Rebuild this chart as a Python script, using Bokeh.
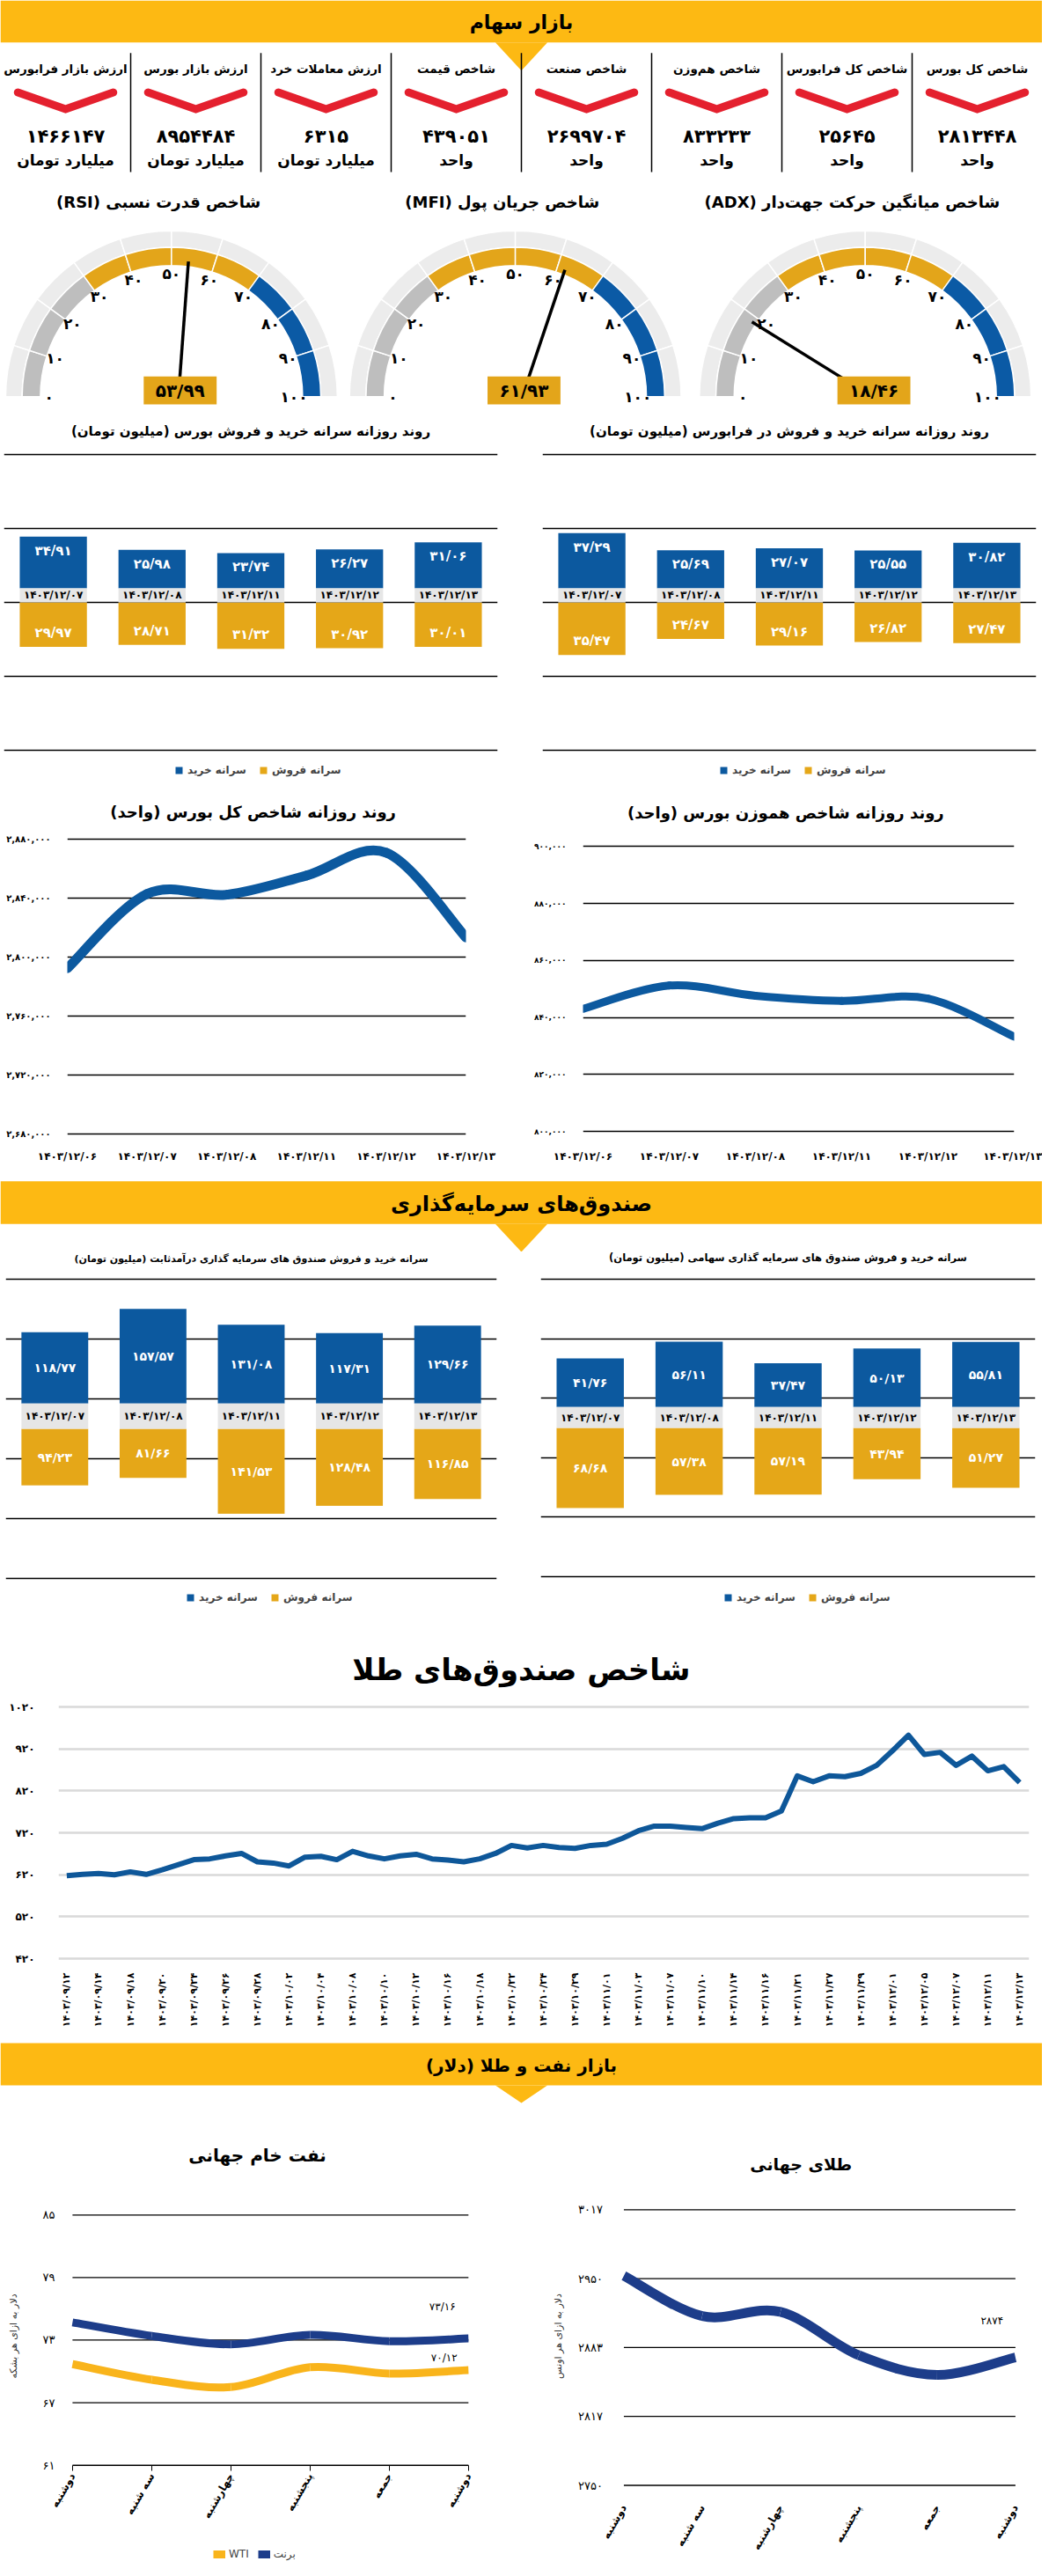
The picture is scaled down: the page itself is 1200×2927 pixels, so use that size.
import math
from bokeh.plotting import figure
from bokeh.layouts import column, row
from bokeh.models import Range1d, FixedTicker, Grid, Legend, LegendItem
from bokeh.core.properties import value
from bokeh.embed import file_html
from bokeh.resources import INLINE

# ------------------------------------------------------------------ data
kpi_titles = ["ارزش بازار فرابورس", "ارزش بازار بورس", "ارزش معاملات خرد", "شاخص قیمت",
              "شاخص صنعت", "شاخص هم‌وزن", "شاخص کل فرابورس", "شاخص کل بورس"]
kpi_values = [1466147, 8954484, 6315, 439051, 2699704, 833233, 25645, 2813448]
kpi_units = ["میلیارد تومان", "میلیارد تومان", "میلیارد تومان", "واحد", "واحد", "واحد", "واحد", "واحد"]

gauge_titles = ["شاخص قدرت نسبی (RSI)", "شاخص جریان پول (MFI)", "شاخص میانگین حرکت جهت‌دار (ADX)"]
gauge_values = [53.99, 61.93, 18.46]
gauge_ticks = [0, 10, 20, 30, 40, 50, 60, 70, 80, 90, 100]

trade_dates = ["1403/12/07", "1403/12/08", "1403/12/11", "1403/12/12", "1403/12/13"]
bourse_buy = [34.91, 25.98, 23.74, 26.27, 31.06]
bourse_sell = [29.97, 28.71, 31.32, 30.92, 30.01]
fara_buy = [37.29, 25.69, 27.07, 25.55, 30.82]
fara_sell = [35.47, 24.67, 29.16, 26.82, 27.47]

index_dates = ["1403/12/06", "1403/12/07", "1403/12/08", "1403/12/11", "1403/12/12", "1403/12/13"]
total_index = [2792500, 2843000, 2842500, 2855500, 2871000, 2813448]
total_ticks = [2680000, 2720000, 2760000, 2800000, 2840000, 2880000]
equal_index = [843000, 851200, 847600, 845800, 846600, 833233]
equal_ticks = [800000, 820000, 840000, 860000, 880000, 900000]

fixed_buy = [118.77, 157.57, 131.08, 117.31, 129.66]
fixed_sell = [94.23, 81.66, 141.53, 128.48, 116.85]
equity_buy = [41.76, 56.11, 37.47, 50.13, 55.81]
equity_sell = [68.68, 57.38, 57.19, 43.94, 51.27]

gold_fund_index = [618, 621, 623, 620, 627, 621, 632, 644, 656, 658,
                   665, 671, 651, 648, 641, 662, 664, 656, 676, 665,
                   658, 665, 669, 658, 655, 651, 658, 671, 690, 684,
                   690, 685, 683, 690, 693, 707, 725, 736, 736, 733,
                   730, 743, 754, 756, 756, 772, 856, 842, 856, 854,
                   862, 881, 916, 953, 907, 912, 881, 903, 868, 878, 840]
gold_fund_dates = ["09/12", "09/14", "09/18", "09/20", "09/24", "09/26", "09/28", "10/02",
                   "10/04", "10/08", "10/10", "10/12", "10/16", "10/18", "10/22", "10/24",
                   "10/29", "11/01", "11/03", "11/07", "11/10", "11/14", "11/16", "11/21",
                   "11/27", "11/29", "12/01", "12/05", "12/07", "12/11", "12/13"]
gold_fund_ticks = [420, 520, 620, 720, 820, 920, 1020]

weekdays = ["دوشنبه", "سه شنبه", "چهارشنبه", "پنجشنبه", "جمعه", "دوشنبه"]
brent = [74.7, 73.4, 72.6, 73.5, 72.9, 73.16]
wti = [70.7, 69.2, 68.5, 70.4, 69.8, 70.12]
oil_ticks = [61, 67, 73, 79, 85]
gold_ounce = [2953, 2914, 2918, 2876, 2857, 2874]
gold_ticks = [2750, 2816.75, 2883.5, 2950.25, 3017]
gold_tick_labels = ["2750", "2817", "2883", "2950", "3017"]

# ------------------------------------------------------------------ style
SX = 1184 / 1200
SY = 2911 / 2927
FONT = value("DejaVu Sans")
FN = "DejaVu Sans"
YELLOW = "#FDB913"
BLUE = "#0C599F"
GOLD = "#E5A718"
GGOLD = "#E3A51A"
GBLUE = "#0B5AA5"
GGRAY = "#BEBEBE"
LIGHT = "#ECECEC"
RED = "#E4202E"
NAVY = "#1D3D8A"
WTIC = "#F9B41B"
BANDC = "#E6E6E6"

FA = str.maketrans("0123456789.", "۰۱۲۳۴۵۶۷۸۹/")


def fa(s):
    return str(s).translate(FA)


def rtl(s):
    return "\u202b" + s + "\u202c"


def px(v):
    return int(round(v * SX))


def py(v):
    return int(round(v * SY))


bounds = [0, 215, 470, 895, 1330, 1430, 1845, 2325, 2410, 2927]
pb = [int(round(b * SY)) for b in bounds]
pb[-1] = 2911
H = [pb[i + 1] - pb[i] for i in range(len(pb) - 1)]


def base(w, h, xr, yr, bl=0, br=0, bt=0, bb=0, axes=False):
    kw = {} if axes else dict(x_axis_type=None, y_axis_type=None)
    p = figure(width=w, height=h, x_range=xr, y_range=yr, output_backend="svg",
               toolbar_location=None, title=None,
               min_border_left=bl, min_border_right=br, min_border_top=bt,
               min_border_bottom=bb, **kw)
    p.outline_line_color = None
    p.background_fill_color = "white"
    p.border_fill_color = "white"
    return p


def txt(p, x, y, s, size, color="black", bold=True, align="center"):
    p.text(x=x, y=y, text=s, text_font=FONT, text_font_size=size, text_color=color,
           text_font_style="bold" if bold else "normal", text_align=align,
           text_baseline="middle")


def section(h_page, y0, y1, band_top, band_bot, apex, label, size):
    p = base(1184, h_page, Range1d(0, 1200), Range1d(y1, y0))
    p.quad(left=[0], right=[1200], top=[band_top], bottom=[band_bot],
           fill_color=YELLOW, line_color=None)
    p.patch(x=[570, 630, 600], y=[band_bot, band_bot, apex], fill_color=YELLOW, line_color=None)
    txt(p, [600], [(band_top + band_bot) / 2 + 1], [rtl(label)], size)
    return p


def smooth(p, xs, ys, **kw):
    n = len(xs)
    d = dict(x0=[], y0=[], x1=[], y1=[], cx0=[], cy0=[], cx1=[], cy1=[])
    for i in range(n - 1):
        a = max(i - 1, 0)
        b = min(i + 2, n - 1)
        d["x0"].append(xs[i]); d["y0"].append(ys[i])
        d["x1"].append(xs[i + 1]); d["y1"].append(ys[i + 1])
        d["cx0"].append(xs[i] + (xs[i + 1] - xs[a]) / 6)
        d["cy0"].append(ys[i] + (ys[i + 1] - ys[a]) / 6)
        d["cx1"].append(xs[i + 1] - (xs[b] - xs[i]) / 6)
        d["cy1"].append(ys[i + 1] - (ys[b] - ys[i]) / 6)
    return p.bezier(**d, **kw)


# ------------------------------------------------------------------ header + KPI
h1 = section(H[0], 0, 215, 0, 48, 80, "بازار سهام", "22px")
cols = [75 + 150 * i for i in range(len(kpi_titles))]
seps = [150 * i for i in range(1, len(kpi_titles))]
h1.segment(x0=seps, y0=60, x1=seps, y1=196, line_color="black", line_width=1.5)
txt(h1, cols, [78] * 8, kpi_titles, "13.5px")
h1.multi_line(xs=[[c - 55, c, c + 55] for c in cols], ys=[[105, 124, 105]] * 8,
              line_color=RED, line_width=9, line_cap="round", line_join="miter")
txt(h1, cols, [155] * 8, [fa(v) for v in kpi_values], "21px")
txt(h1, cols, [182] * 8, kpi_units, "17px")

# ------------------------------------------------------------------ gauges
g = base(1184, H[1], Range1d(0, 1200), Range1d(-17, 238))
centers = [197, 593, 996]
starts = [math.pi - (k + 1) * math.pi / 10 for k in range(10)]
ends = [math.pi - k * math.pi / 10 for k in range(10)]
seg_colors = [GGRAY] * 3 + [GGOLD] * 4 + [GBLUE] * 3
for cx, v, t in zip(centers, gauge_values, gauge_titles):
    g.annular_wedge(x=cx, y=0, inner_radius=172, outer_radius=191, start_angle=starts,
                    end_angle=ends, fill_color=LIGHT, line_color="white", line_width=1.5)
    g.annular_wedge(x=cx, y=0, inner_radius=151, outer_radius=172, start_angle=starts,
                    end_angle=ends, fill_color=seg_colors, line_color="white", line_width=1.5)
    ang = [math.pi - tv * math.pi / 100 for tv in gauge_ticks]
    txt(g, [cx + 141 * math.cos(a) for a in ang], [141 * math.sin(a) for a in ang],
        [fa(tv) for tv in gauge_ticks], "17px")
    a = math.pi - v * math.pi / 100
    g.segment(x0=[cx + 8], y0=[0], x1=[cx + 156 * math.cos(a)], y1=[156 * math.sin(a)],
              line_color="black", line_width=3.5)
    g.rect(x=[cx + 10], y=[7], width=84, height=32, fill_color=GGOLD, line_color=None)
    txt(g, [cx + 10], [7], [fa(f"{v:.2f}")], "20px")
    txt(g, [cx - 15], [223], [rtl(t)], "18px")


# ------------------------------------------------------------------ bar charts
def bars_fig(w, h, bl, br, title, dates, buy, sell, zero_ref, top_ref, bot_ref, ppu, band,
             grid_vals, centered, title_y_ref, title_size, lab_size, leg_vx, leg_vy):
    yr = Range1d(-(bot_ref - zero_ref) / ppu, (zero_ref - top_ref) / ppu)
    p = base(w, h, Range1d(-0.5, len(dates) - 0.5), yr, bl=px(bl), br=px(br))
    p.add_layout(Grid(dimension=1, ticker=FixedTicker(ticks=grid_vals),
                      grid_line_color="black", grid_line_width=1.3))
    xs = list(range(len(dates)))
    rb = p.vbar(x=xs, bottom=band, top=[band + b for b in buy], width=0.68,
                fill_color=BLUE, line_color=None)
    rs = p.vbar(x=xs, bottom=0, top=[-s for s in sell], width=0.68,
                fill_color=GOLD, line_color=None)
    p.vbar(x=xs, bottom=0, top=band, width=0.68, fill_color=BANDC, line_color=None)
    txt(p, xs, [band / 2] * len(xs), [fa(d) for d in dates], "12px")
    if centered:
        yb = [band + b / 2 for b in buy]
        ys = [-s / 2 for s in sell]
    else:
        off = 16 / ppu
        yb = [band + b - off for b in buy]
        ys = [-s + off for s in sell]
    txt(p, xs, yb, [fa(f"{b:.2f}") for b in buy], lab_size, color="white")
    txt(p, xs, ys, [fa(f"{s:.2f}") for s in sell], lab_size, color="white")
    txt(p, [(len(dates) - 1) / 2], [(zero_ref - title_y_ref) / ppu], [rtl(title)], title_size)
    leg = Legend(items=[LegendItem(label="سرانه خرید", renderers=[rb]),
                        LegendItem(label="سرانه فروش", renderers=[rs])],
                 orientation="horizontal", location=(px(leg_vx), py(leg_vy)),
                 label_text_font=FN, label_text_font_size="12px", label_text_font_style="bold",
                 glyph_width=10, glyph_height=10, label_height=12, label_standoff=5,
                 spacing=14, padding=0, margin=0, border_line_color=None,
                 background_fill_alpha=0)
    p.add_layout(leg)
    return p


b1 = bars_fig(592, H[2], 4, 27, "روند روزانه سرانه خرید و فروش بورس (میلیون تومان)",
              trade_dates, bourse_buy, bourse_sell, 688, 470, 895, 1.69, 9.5,
              [-100, -50, 0, 50, 100], False, 493, "15px", "15px", 197, 8)
b2 = bars_fig(592, H[2], 24, 7, "روند روزانه سرانه خرید و فروش در فرابورس (میلیون تومان)",
              trade_dates, fara_buy, fara_sell, 688, 470, 895, 1.69, 9.5,
              [-100, -50, 0, 50, 100], False, 493, "15px", "15px", 204, 8)


# ------------------------------------------------------------------ line charts
def index_fig(bl, br, title, vals, ticks, g_hi_ref, g_lo_ref, title_ref, title_x, lw, lab_size):
    upp = (ticks[-1] - ticks[0]) / (g_lo_ref - g_hi_ref)
    hi = ticks[-1] + (g_hi_ref - 895) * upp
    lo = ticks[0] - (1299 - g_lo_ref) * upp
    p = base(592, H[3], Range1d(0, len(vals) - 1), Range1d(lo, hi),
             bl=px(bl), br=px(br), bb=py(31), axes=True)
    p.xgrid.visible = False
    p.ygrid.grid_line_color = "black"
    p.ygrid.grid_line_width = 1.3
    p.yaxis.ticker = FixedTicker(ticks=ticks)
    p.yaxis.major_label_overrides = {t: fa(f"{t:,}") for t in ticks}
    p.xaxis.ticker = FixedTicker(ticks=list(range(len(vals))))
    p.xaxis.major_label_overrides = {i: fa(d) for i, d in enumerate(index_dates)}
    for ax in (p.xaxis, p.yaxis):
        ax.axis_line_color = None
        ax.major_tick_line_color = None
        ax.minor_tick_line_color = None
        ax.major_label_text_font = FN
        ax.major_label_text_font_style = "bold"
        ax.major_label_text_color = "black"
    p.yaxis.major_label_text_font_size = lab_size
    p.yaxis.major_label_standoff = 13
    p.xaxis.major_label_text_font_size = "12px"
    p.xaxis.major_label_standoff = 10
    smooth(p, list(range(len(vals))), vals, line_color=BLUE, line_width=lw, line_cap="round")
    txt(p, [title_x], [ticks[-1] + (g_hi_ref - title_ref) * upp], [rtl(title)], "18px")
    return p


l1 = index_fig(77, 64, "روند روزانه شاخص کل بورس (واحد)", total_index, total_ticks,
               959, 1297, 927, 2.33, 11, "10px")
l2 = index_fig(71, 32, "روند روزانه شاخص هموزن بورس (واحد)", equal_index, equal_ticks,
               967, 1294, 928, 2.35, 9, "9px")

# ------------------------------------------------------------------ funds header + bars
h2 = section(H[4], 1330, 1430, 1349, 1398, 1430, "صندوق‌های سرمایه‌گذاری", "24px")

f1 = bars_fig(592, H[5], 6, 28,
              "سرانه خرید و فروش صندوق های سرمایه گذاری درآمدثابت (میلیون تومان)",
              trade_dates, fixed_buy, fixed_sell, 1632, 1430, 1845, 0.685, 42.3,
              [-250, -150, -50, 50, 150, 250], True, 1438, "11px", "14px", 208, 13)
f2 = bars_fig(592, H[5], 22, 8,
              "سرانه خرید و فروش صندوق های سرمایه گذاری سهامی (میلیون تومان)",
              trade_dates, equity_buy, equity_sell, 1631, 1430, 1845, 1.33, 18,
              [-127.5, -76.5, -25.5, 25.5, 76.5, 127.5], True, 1437, "11.5px", "14px", 211, 13)

# ------------------------------------------------------------------ gold funds index
gf_upp = 600 / 288
ppi = (1174 - 76.5) / (len(gold_fund_index) - 1)
gx_lo = -(76.5 - 67) / ppi
gx_hi = len(gold_fund_index) - 1 + (1185 - 1174) / ppi
gf = base(1184, H[6], Range1d(gx_lo, gx_hi),
          Range1d(420 - 2 * gf_upp, 1020 + (1950 - 1845) * gf_upp),
          bl=px(67), br=px(15), bb=py(85), axes=True)
gf.xgrid.visible = False
gf.ygrid.grid_line_color = "#D9D9D9"
gf.ygrid.grid_line_width = 2.5
gf.yaxis.ticker = FixedTicker(ticks=gold_fund_ticks)
gf.yaxis.major_label_overrides = {t: fa(t) for t in gold_fund_ticks}
gf.xaxis.ticker = FixedTicker(ticks=list(range(0, len(gold_fund_index), 2)))
gf.xaxis.major_label_overrides = {2 * i: fa("1403/" + d) for i, d in enumerate(gold_fund_dates)}
gf.xaxis.major_label_orientation = math.pi / 2
for ax in (gf.xaxis, gf.yaxis):
    ax.axis_line_color = None
    ax.major_tick_line_color = None
    ax.minor_tick_line_color = None
    ax.major_label_text_font = FN
    ax.major_label_text_font_style = "bold"
    ax.major_label_text_color = "black"
gf.yaxis.major_label_text_font_size = "12px"
gf.yaxis.major_label_standoff = 21
gf.xaxis.major_label_text_font_size = "11px"
gf.xaxis.major_label_standoff = 8
gf.line(x=list(range(len(gold_fund_index))), y=gold_fund_index, line_color="#0E5799",
        line_width=6, line_join="round")
txt(gf, [(600 - 67) / ppi + gx_lo], [1020 + (1950 - 1907) * gf_upp], ["شاخص صندوق‌های طلا"], "34px")

# ------------------------------------------------------------------ oil & gold
h3 = section(H[7], 2325, 2410, 2334, 2382, 2402, "بازار نفت و طلا (دلار)", "20px")


def style_small_axes(p, ticks, labels, ystand, xstand, ylab, ylab_stand, tick_out, fixed):
    p.xgrid.visible = False
    p.ygrid.visible = False
    p.segment(x0=0, x1=len(weekdays) - 1, y0=ticks, y1=ticks, line_color="black", line_width=1.3)
    p.yaxis.ticker = FixedTicker(ticks=ticks)
    p.yaxis.major_label_overrides = {t: fa(l) for t, l in zip(ticks, labels)}
    p.yaxis.fixed_location = 0
    p.xaxis.ticker = FixedTicker(ticks=list(range(len(weekdays))))
    p.xaxis.major_label_overrides = {i: d for i, d in enumerate(weekdays)}
    p.xaxis.major_label_orientation = math.pi / 3
    p.xaxis.fixed_location = fixed
    p.xaxis.bounds = (0, len(weekdays) - 1)
    for ax in (p.xaxis, p.yaxis):
        ax.minor_tick_line_color = None
        ax.major_label_text_font = FN
        ax.major_label_text_color = "black"
    p.yaxis.axis_line_color = None
    p.yaxis.major_tick_line_color = None
    p.yaxis.major_label_text_font_size = "13px"
    p.yaxis.major_label_standoff = ystand
    p.yaxis.axis_label = ylab
    p.yaxis.axis_label_text_font = FN
    p.yaxis.axis_label_text_font_size = "11px"
    p.yaxis.axis_label_text_font_style = "normal"
    p.yaxis.axis_label_text_color = "#333333"
    p.yaxis.axis_label_standoff = ylab_stand
    p.xaxis.major_label_text_font_size = "12px"
    p.xaxis.major_label_text_font_style = "bold"
    p.xaxis.major_label_standoff = xstand
    if tick_out:
        p.xaxis.axis_line_color = "black"
        p.xaxis.major_tick_line_color = "black"
        p.xaxis.major_tick_out = 6
        p.xaxis.major_tick_in = 0
    else:
        p.xaxis.axis_line_color = None
        p.xaxis.major_tick_line_color = None


# oil: frame fills the figure; axes pinned to x=0 and y=61
oil_upp = 24 / 286
oil_ppi = (539 - 83) / 5
oil = base(592, H[8], Range1d(-83 / oil_ppi, 5 + 61 / oil_ppi),
           Range1d(61 - (2927 - 2816) * oil_upp, 85 + (2530 - 2410) * oil_upp),
           bl=0, br=0, bb=0, axes=True)
style_small_axes(oil, oil_ticks, [str(t) for t in oil_ticks], 14, 4,
                 "دلار به ازای هر بشکه", 24, True, oil_ticks[0])
xs6 = list(range(len(weekdays)))
rb_oil = smooth(oil, xs6, brent, line_color=NAVY, line_width=9, line_cap="butt")
rw_oil = smooth(oil, xs6, wti, line_color=WTIC, line_width=9, line_cap="butt")
txt(oil, [5 - 30 / oil_ppi], [brent[-1] + 36 * oil_upp], [fa(f"{brent[-1]:.2f}")], "12px", bold=False)
txt(oil, [5 - 28 / oil_ppi], [wti[-1] + 14 * oil_upp], [fa(f"{wti[-1]:.2f}")], "12px", bold=False)
txt(oil, [(296 - 83) / oil_ppi], [85 + (2530 - 2462) * oil_upp], ["نفت خام جهانی"], "20px")
oil_leg = Legend(items=[LegendItem(label="WTI", renderers=[rw_oil]),
                        LegendItem(label="برنت", renderers=[rb_oil])],
                 orientation="horizontal", location=(px(245), 2),
                 label_text_font=FN, label_text_font_size="12px",
                 glyph_width=14, glyph_height=10, label_height=12, label_standoff=4,
                 spacing=10, padding=0, margin=0, border_line_color=None,
                 background_fill_alpha=0)
oil.add_layout(oil_leg)

gold_upp = (3017 - 2750) / (2839 - 2524)
gold_ppi = (1169 - 718) / 5
gold = base(592, H[8], Range1d(-(718 - 600) / gold_ppi, 5 + 31 / gold_ppi),
            Range1d(2750 - (2927 - 2839) * gold_upp, 3017 + (2524 - 2410) * gold_upp),
            bl=0, br=0, bb=0, axes=True)
style_small_axes(gold, gold_ticks, gold_tick_labels, 18, 17, "دلار به ازای هر اونس", 13, False,
                 gold_ticks[0])
smooth(gold, xs6, gold_ounce, line_color=NAVY, line_width=11, line_cap="butt")
txt(gold, [5 - 27 / gold_ppi], [gold_ounce[-1] + 42 * gold_upp], [fa(gold_ounce[-1])], "12px", bold=False)
txt(gold, [(922 - 718) / gold_ppi], [3017 + (2524 - 2472) * gold_upp], ["طلای جهانی"], "19px")

layout = column(row(h1), row(g),
                row(column(b1), column(b2)),
                row(column(l1), column(l2)),
                row(h2),
                row(column(f1), column(f2)),
                row(gf), row(h3),
                row(column(oil), column(gold)))
open("out.html", "w", encoding="utf-8").write(file_html(layout, INLINE, title="chart"))
